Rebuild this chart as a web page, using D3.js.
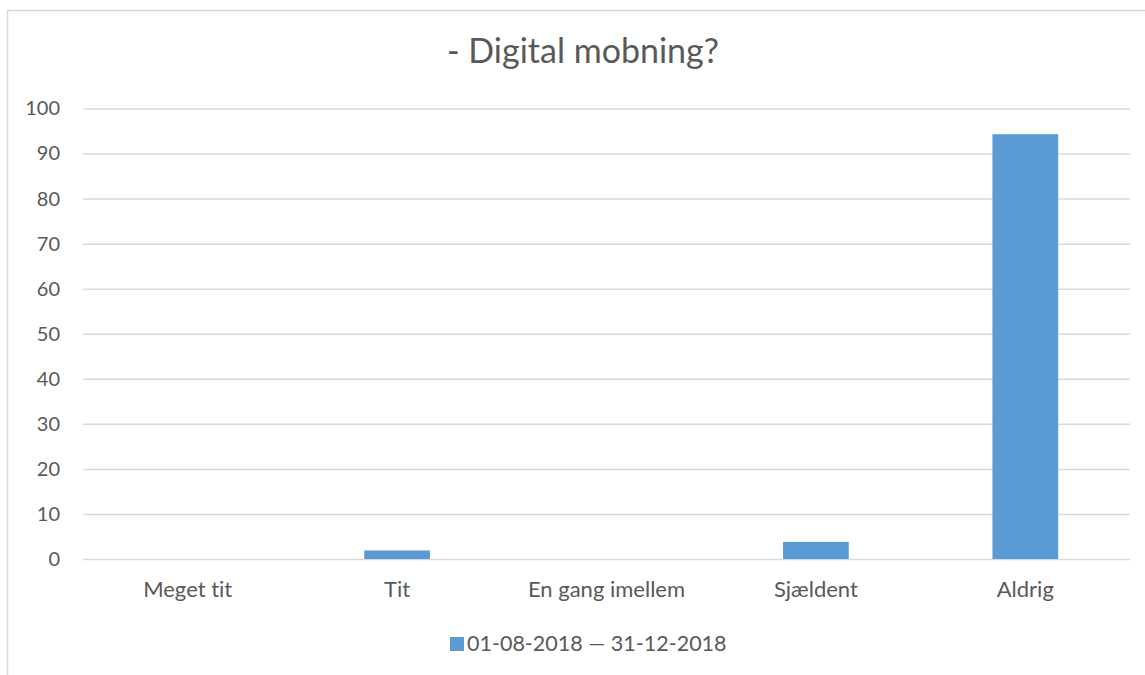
<!DOCTYPE html>
<html>
<head>
<meta charset="utf-8">
<script src="https://cdn.jsdelivr.net/npm/d3@7"></script>
<style>
  html, body { margin: 0; padding: 0; background: #fff; }
  svg { display: block; font-family: Lato, "Open Sans", sans-serif; font-variant-ligatures: none; font-feature-settings: "liga" 0; }
</style>
</head>
<body>
<svg id="chart" width="1145" height="675"></svg>
<script>
// Survey answers and share of responses (%)
const categories = ["Meget tit", "Tit", "En gang imellem", "Sjældent", "Aldrig"];
const values = [0, 1.9, 0, 3.8, 94.3];
const yTicks = [0, 10, 20, 30, 40, 50, 60, 70, 80, 90, 100];
const seriesName = "01-08-2018 — 31-12-2018";
const title = "- Digital mobning?";

const W = 1145, H = 675;
const margin = { left: 83, right: 15, top: 108.5, bottom: 116 };
const textColor = "#595959";
const gridColor = "#d9d9d9";
const barColor = "#5b9bd5";

const svg = d3.select("#chart");

// outer chart frame
svg.append("rect")
  .attr("x", 7.5).attr("y", 10.5)
  .attr("width", W + 10).attr("height", H + 10)
  .attr("fill", "#fff").attr("stroke", gridColor).attr("stroke-width", 1.5);

const x = d3.scaleBand()
  .domain(categories)
  .range([margin.left, W - margin.right])
  .paddingInner(0.686).paddingOuter(0.343);

const y = d3.scaleLinear()
  .domain([0, 100])
  .range([H - margin.bottom, margin.top]);

// horizontal gridlines + y tick labels
const yAxis = d3.axisLeft(y)
  .tickValues(yTicks)
  .tickSize(-(W - margin.right - margin.left))
  .tickPadding(23);

const gy = svg.append("g")
  .attr("transform", `translate(${margin.left},0)`)
  .call(yAxis);
gy.select(".domain").remove();
gy.selectAll(".tick line").attr("stroke", gridColor).attr("stroke-width", 1.5);
gy.selectAll(".tick text")
  .attr("fill", textColor)
  .style("font-size", "20px")
  .style("font-family", "Lato, sans-serif");

// bars
svg.append("g").selectAll("rect")
  .data(categories.map((c, i) => ({ c, v: values[i] })))
  .join("rect")
  .attr("x", d => x(d.c))
  .attr("width", x.bandwidth())
  .attr("y", d => y(d.v))
  .attr("height", d => y(0) - y(d.v))
  .attr("fill", barColor);

// category labels
const xAxis = d3.axisBottom(x).tickSize(0).tickPadding(22);
const gx = svg.append("g")
  .attr("transform", `translate(0,${y(0)})`)
  .call(xAxis);
gx.select(".domain").remove();
gx.selectAll(".tick text")
  .attr("fill", textColor)
  .style("font-size", "22px")
  .style("font-family", "Lato, sans-serif");

// title
svg.append("text")
  .attr("x", 583).attr("y", 63)
  .attr("text-anchor", "middle")
  .attr("fill", textColor)
  .style("font-size", "34px")
  .text(title);

// legend
const legend = svg.append("g");
legend.append("rect")
  .attr("x", 450).attr("y", 637)
  .attr("width", 14).attr("height", 14)
  .attr("fill", barColor);
legend.append("text")
  .attr("x", 467).attr("y", 651)
  .attr("fill", textColor)
  .style("font-size", "21.5px")
  .text(seriesName);
</script>
</body>
</html>
